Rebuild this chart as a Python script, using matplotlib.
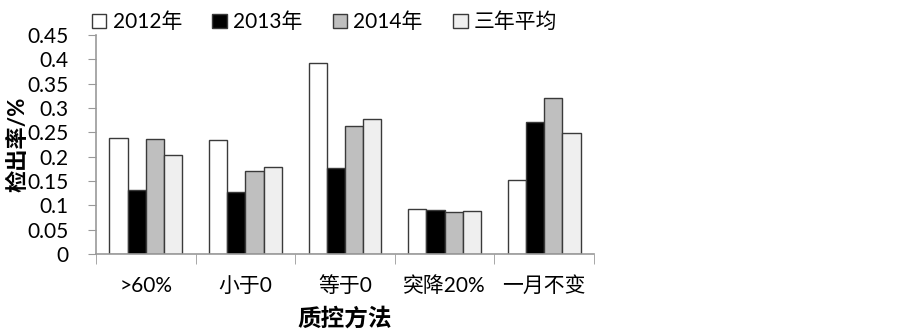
import numpy as np
import matplotlib.pyplot as plt

plt.rcParams['font.family'] = ['Lato', 'Noto Sans CJK SC', 'DejaVu Sans']

# data
categories = ['>60%', '小于0', '等于0', '突降20%', '一月不变']
series_names = ['2012年', '2013年', '2014年', '三年平均']
v2012 = [0.238, 0.234, 0.392, 0.092, 0.152]
v2013 = [0.132, 0.127, 0.176, 0.090, 0.271]
v2014 = [0.236, 0.171, 0.264, 0.086, 0.321]
vavg = [0.203, 0.178, 0.277, 0.089, 0.248]
yticks = [0, 0.05, 0.1, 0.15, 0.2, 0.25, 0.3, 0.35, 0.4, 0.45]
ytick_labels = ['0', '0.05', '0.1', '0.15', '0.2', '0.25', '0.3', '0.35', '0.4', '0.45']

colors = ['#ffffff', '#000000', '#bfbfbf', '#efefef']
edge = '#3a3a3a'
axis_col = '#999999'

fig = plt.figure(figsize=(9.03, 3.30), dpi=100)
ax = fig.add_axes([96 / 903, 76 / 330, 498 / 903, 219 / 330])

x = np.arange(len(categories))
w = 0.183
all_vals = [v2012, v2013, v2014, vavg]
for i, (vals, c, name) in enumerate(zip(all_vals, colors, series_names)):
    ax.bar(x + (i - 1.5) * w, vals, width=w, color=c, edgecolor=edge,
           linewidth=1.0, label=name)

ax.set_xlim(-0.5, len(categories) - 0.5)
ax.set_ylim(0, 0.45)
ax.set_yticks(yticks)
ax.set_yticklabels(ytick_labels, fontsize=15)

ax.set_xticks(x)
ax.set_xticklabels(categories, fontsize=15)
ax.set_xticks(np.arange(len(categories) + 1) - 0.5, minor=True)
ax.tick_params(axis='x', which='major', length=0, pad=16)
ax.tick_params(axis='x', which='minor', length=7, color=axis_col, direction='out')
ax.tick_params(axis='y', length=6, color=axis_col, direction='out', pad=14)

for s in ['top', 'right']:
    ax.spines[s].set_visible(False)
for s in ['left', 'bottom']:
    ax.spines[s].set_color(axis_col)
    ax.spines[s].set_linewidth(1.2)

ax.set_ylabel('检出率/%', fontsize=16, fontweight='bold', va='center')
ax.yaxis.set_label_coords(-78 / 498, 0.5)
ax.set_xlabel('质控方法', fontsize=17, fontweight='bold', va='center')
ax.xaxis.set_label_coords(0.5, -64 / 219)

fig.legend(loc='upper left', bbox_to_anchor=(73 / 903, 1.02), ncol=4,
           frameon=False, fontsize=15, handlelength=0.7, handleheight=0.7,
           handletextpad=0.3, columnspacing=1.45)

fig.savefig('out.png', dpi=100)
